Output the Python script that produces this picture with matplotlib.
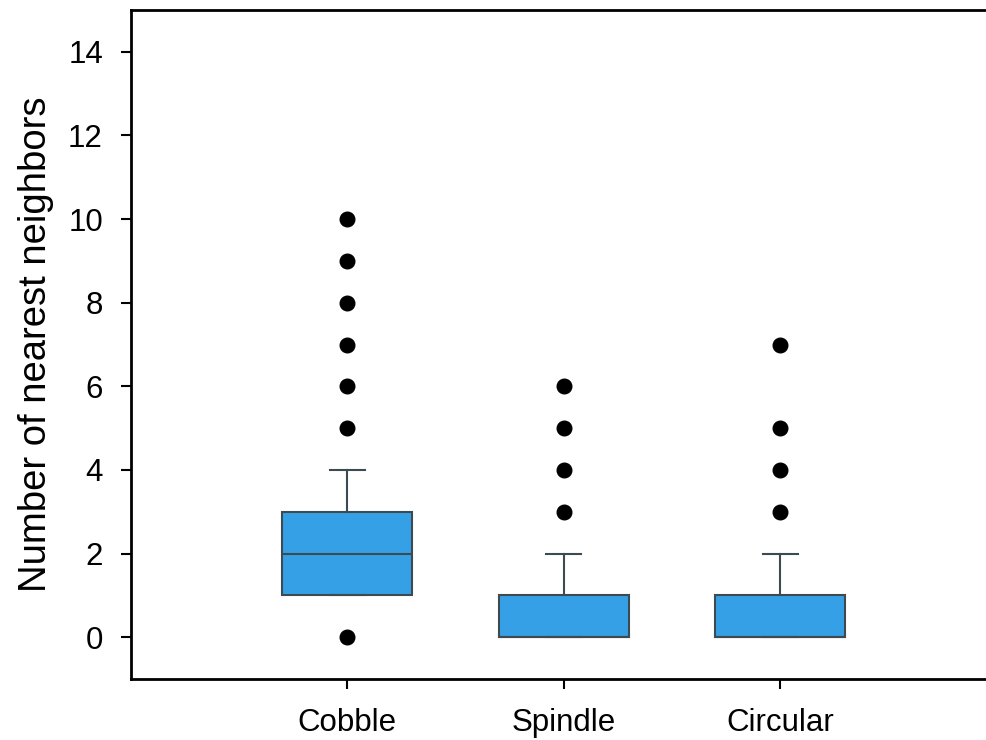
import matplotlib
matplotlib.use("Agg")
import matplotlib.pyplot as plt

plt.rcParams['font.family'] = ['Liberation Sans', 'DejaVu Sans']

# box statistics
categories = ['Cobble', 'Spindle', 'Circular']
q1 = [1, 0, 0]
medians = [2, 0, 0]
q3 = [3, 1, 1]
whis_lo = [1, 0, 0]
whis_hi = [4, 2, 2]
outliers = [[0, 5, 6, 7, 8, 9, 10], [3, 4, 5, 6], [3, 4, 5, 7]]

stats = []
for i, name in enumerate(categories):
    stats.append({'label': name, 'q1': q1[i], 'med': medians[i], 'q3': q3[i],
                  'whislo': whis_lo[i], 'whishi': whis_hi[i], 'fliers': outliers[i]})

fig = plt.figure(figsize=(9.86, 7.4), dpi=100)
ax = fig.add_axes([130.7 / 986, 1 - 679 / 740, 866 / 986, 669 / 740])

edge = '#3d4a52'
ax.bxp(stats, positions=[1, 2, 3], widths=0.6, patch_artist=True,
       boxprops=dict(facecolor='#35a0e6', edgecolor=edge, linewidth=1.5),
       medianprops=dict(color=edge, linewidth=1.5),
       whiskerprops=dict(color=edge, linewidth=1.5),
       capprops=dict(color=edge, linewidth=1.5),
       capwidths=0.16,
       flierprops=dict(marker='o', markerfacecolor='black', markeredgecolor='black',
                       markersize=10.5))

ax.set_xlim(0, 4)
ax.set_ylim(-1, 15)
ax.set_yticks([0, 2, 4, 6, 8, 10, 12, 14])
ax.set_xticks([1, 2, 3])
ax.set_xticklabels(categories)
ax.tick_params(direction='out', length=7, width=1.5, labelsize=22.5, pad=14)
ax.tick_params(axis='y', pad=13)
for s in ax.spines.values():
    s.set_linewidth(2)
ax.spines['right'].set_visible(False)

ax.set_ylabel('Number of nearest neighbors', fontsize=27.5, labelpad=10)

fig.savefig('out.png', dpi=100)
